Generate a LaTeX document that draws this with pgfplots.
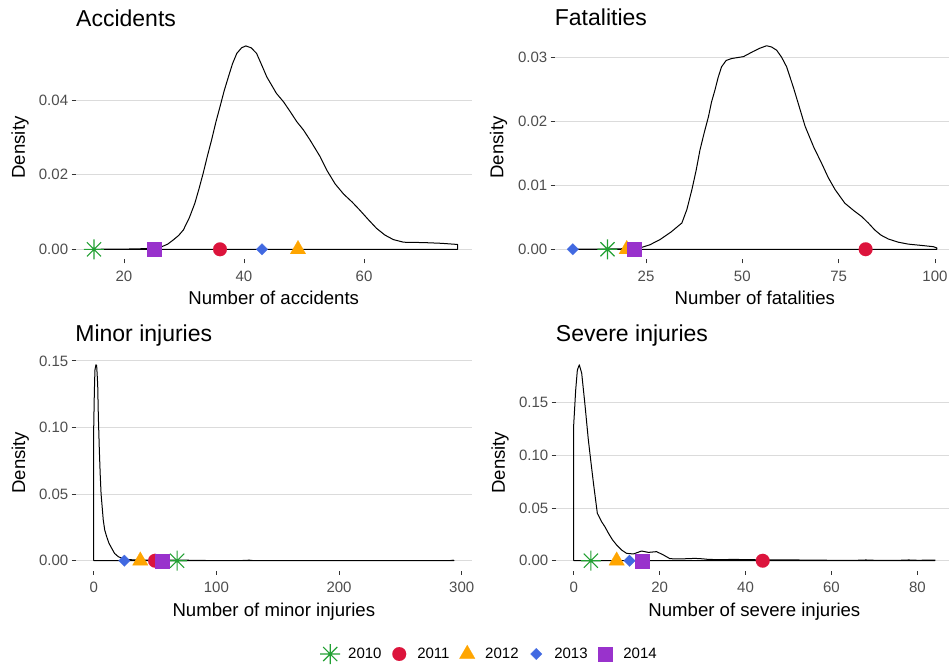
\documentclass[border=0pt]{standalone}
\usepackage{pgfplots}
\pgfplotsset{compat=1.18}
\usepackage{fontspec}
\setmainfont{Liberation Sans}
\definecolor{gridc}{HTML}{DBDBDB}
\definecolor{tickc}{HTML}{4D4D4D}
\definecolor{tickm}{HTML}{333333}
\definecolor{c2010}{HTML}{22A033}
\definecolor{c2011}{HTML}{DC143C}
\definecolor{c2012}{HTML}{FFA500}
\definecolor{c2013}{HTML}{4169E1}
\definecolor{c2014}{HTML}{9932CC}
\pgfdeclareplotmark{ggstar}{%
  \pgfpathmoveto{\pgfqpoint{-\pgfplotmarksize}{0pt}}\pgfpathlineto{\pgfqpoint{\pgfplotmarksize}{0pt}}%
  \pgfpathmoveto{\pgfqpoint{0pt}{-\pgfplotmarksize}}\pgfpathlineto{\pgfqpoint{0pt}{\pgfplotmarksize}}%
  \pgfpathmoveto{\pgfqpoint{-0.7071\pgfplotmarksize}{-0.7071\pgfplotmarksize}}\pgfpathlineto{\pgfqpoint{0.7071\pgfplotmarksize}{0.7071\pgfplotmarksize}}%
  \pgfpathmoveto{\pgfqpoint{-0.7071\pgfplotmarksize}{0.7071\pgfplotmarksize}}\pgfpathlineto{\pgfqpoint{0.7071\pgfplotmarksize}{-0.7071\pgfplotmarksize}}%
  \pgfusepathqstroke}
\pgfplotsset{
  ggbase/.style={
    scale only axis, clip=false,
    axis line style={draw=none},
    xtick pos=left, ytick pos=left,
    tick align=outside, major tick length=4pt,
    tick style={color=tickm, line width=0.9pt},
    ymajorgrids, major grid style={color=gridc, line width=0.9pt},
    scaled y ticks=false, scaled x ticks=false,
    ticklabel style={font=\fontsize{15}{15}\selectfont, text=tickc},
    /pgf/number format/assume math mode=true,
    yticklabel style={/pgf/number format/fixed, /pgf/number format/fixed zerofill, /pgf/number format/precision=2, inner xsep=3.2pt},
    xticklabel style={inner ysep=6pt, yshift=-1pt},
    xlabel style={font=\fontsize{18.6}{18.6}\selectfont, at={(axis description cs:0.5,0)}, anchor=base, yshift=-45.5pt},
    ylabel style={font=\fontsize{18.6}{18.6}\selectfont, at={(axis description cs:-0.14,0.5)}, anchor=center},
    every axis title/.style={font=\fontsize{23}{23}\selectfont, at={(axis description cs:0,1)}, anchor=base west, inner xsep=0pt},
    ylabel={Density},
    legend image code/.code={\path[draw=none,fill=none] (-9pt,0pt) -- (18pt,0pt); \draw[##1, draw=none] plot coordinates {(0pt,0pt)};},
  },
  dens/.style={black, line width=1pt, line join=round},
  s2010/.style={only marks, mark=ggstar, mark size=10pt, color=c2010, mark options={solid, draw=c2010, line width=1.1pt}},
  s2011/.style={only marks, mark=*, mark size=6.9pt, color=c2011, mark options={solid, draw=c2011, fill=c2011, line width=0.1pt}},
  s2012/.style={only marks, mark=triangle*, mark size=9pt, color=c2012, mark options={solid, draw=c2012, fill=c2012, line width=0.1pt}},
  s2013/.style={only marks, mark=square*, mark size=4.1pt, color=c2013, mark options={solid, draw=c2013, fill=c2013, rotate=45, line width=0.1pt}},
  s2014/.style={only marks, mark=square*, mark size=7pt, color=c2014, mark options={solid, draw=c2014, fill=c2014, line width=0.1pt}},
}
\begin{document}
\begin{tikzpicture}
\useasboundingbox (0pt,0pt) rectangle (949pt,667pt);
% ---------------- Accidents ----------------
\begin{axis}[ggbase,
  at={(75.5pt,407.5pt)}, anchor=south west, width=396.5pt, height=224pt,
  xmin=11.92, xmax=78.0, ymin=-0.00273, ymax=0.0573,
  xtick={20,40,60}, ytick={0,0.02,0.04},
  xlabel={Number of accidents},
  title={Accidents}, title style={yshift=8.8pt, xshift=0.5pt}]
\addplot[dens] coordinates {(15,0) (22,0.0001) (25,0.0003) (26.3,0.0007) (27.3,0.0014) (28.2,0.0025) (29.1,0.0037) (29.9,0.0052) (30.9,0.0085) (31.8,0.0123) (32.5,0.0162) (33.2,0.0204) (33.9,0.0250) (34.6,0.0293) (35.3,0.0340) (36.0,0.0382) (36.7,0.0425) (37.4,0.0462) (38.1,0.0498) (38.8,0.0525) (39.6,0.0540) (40.3,0.0545) (41.2,0.0540) (42.1,0.0525) (43.0,0.0492) (43.8,0.0462) (45.4,0.0418) (46.6,0.0395) (47.7,0.0369) (48.8,0.0342) (49.9,0.0320) (51.0,0.0293) (52.7,0.0248) (53.8,0.0212) (55.2,0.0175) (56.6,0.0148) (58.0,0.0127) (59.3,0.0105) (60.7,0.0080) (62.1,0.0056) (63.5,0.0038) (64.9,0.0026) (66.6,0.0019) (70,0.0018) (73,0.0016) (75.6,0.0013) (75.6,0) (15,0)};
\addplot[s2010] coordinates {(15,0)};
\addplot[s2011] coordinates {(36,0)};
\addplot[s2012] coordinates {(49,0)};
\addplot[s2013] coordinates {(43,0)};
\addplot[s2014] coordinates {(25,0)};
\end{axis}
% ---------------- Fatalities ----------------
\begin{axis}[ggbase,
  at={(554.7pt,407.5pt)}, anchor=south west, width=400.3pt, height=224pt,
  xmin=1.3, xmax=105.2, ymin=-0.0016, ymax=0.0334,
  xtick={25,50,75,100}, ytick={0,0.01,0.02,0.03},
  xlabel={Number of fatalities},
  title={Fatalities}, title style={yshift=9.5pt}]
\addplot[dens] coordinates {(6,0) (15,0.00003) (20,0.0001) (23.4,0.0002) (26,0.0007) (28.6,0.0015) (31.5,0.0027) (34.3,0.0041) (35.6,0.0062) (36.9,0.0093) (38.0,0.0123) (39.0,0.0155) (40.1,0.0182) (41.2,0.0207) (42.0,0.0230) (42.9,0.0249) (43.7,0.0268) (44.6,0.0285) (45.8,0.0295) (47.2,0.0298) (50.3,0.0301) (52.8,0.0309) (54.5,0.0314) (56.3,0.0318) (57.6,0.0316) (58.9,0.0311) (60.2,0.0300) (61.5,0.0285) (63.3,0.0252) (65.0,0.0218) (66.3,0.0192) (68.5,0.0160) (70.6,0.0134) (72.3,0.0112) (74.1,0.0093) (76.6,0.0072) (79,0.0060) (81.0,0.0051) (82.7,0.0041) (84.4,0.0030) (86,0.0022) (87.9,0.0016) (90.5,0.0011) (93.1,0.0008) (96.5,0.0006) (99.6,0.0004) (100.5,0.0002) (100.5,0) (6,0)};
\addplot[s2010] coordinates {(15,0)};
\addplot[s2011] coordinates {(82,0)};
\addplot[s2012] coordinates {(20,0)};
\addplot[s2013] coordinates {(6,0)};
\addplot[s2014] coordinates {(22,0)};
\end{axis}
% ---------------- Minor injuries ----------------
\begin{axis}[ggbase,
  at={(75.7pt,96.5pt)}, anchor=south west, width=396.3pt, height=215.5pt,
  xmin=-14.67, xmax=308.4, ymin=-0.00735, ymax=0.1544,
  xtick={0,100,200,300}, ytick={0,0.05,0.10,0.15},
  xlabel={Number of minor injuries},
  title={Minor injuries}, title style={yshift=13.3pt, xshift=-0.5pt},
  legend columns=5,
  legend style={at={(axis description cs:1.0416,-0.3875)}, anchor=center, draw=none, fill=none,
    font=\fontsize{15}{15}\selectfont,
    /tikz/every even column/.append style={column sep=8.7pt},
    nodes={inner xsep=0pt, inner ysep=2pt}}]
\addplot[dens, forget plot] coordinates {(0,0) (0,0.099) (0.5,0.125) (1.0,0.143) (1.8,0.147) (2.4,0.1465) (3.0,0.137) (3.3,0.1305) (3.8,0.108) (4.6,0.083) (5.3,0.065) (6.0,0.0505) (7.8,0.0305) (9.0,0.023) (10.6,0.018) (12.5,0.013) (14.7,0.0093) (17,0.0055) (20.1,0.0030) (24,0.0015) (28.2,0.0008) (35,0.0006) (45,0.0005) (60,0.0004) (75,0.0004) (85,0.0002) (100,0.0001) (120,0.0001) (127,0.0004) (130,0.0001) (150,0.00005) (290,0.00005) (293,0.0004) (293.7,0.0001) (293.7,0) (0,0)};
\addplot[s2010] coordinates {(68,0)};
\addlegendentry{2010}
\addplot[s2011] coordinates {(50,0)};
\addlegendentry{2011}
\addplot[s2012] coordinates {(38,0)};
\addlegendentry{2012}
\addplot[s2013] coordinates {(25,0)};
\addlegendentry{2013}
\addplot[s2014] coordinates {(56,0)};
\addlegendentry{2014}
\end{axis}
% ---------------- Severe injuries ----------------
\begin{axis}[ggbase,
  at={(555.7pt,96.5pt)}, anchor=south west, width=397.3pt, height=215.5pt,
  xmin=-4.19, xmax=88.3, ymin=-0.0093, ymax=0.1953,
  xtick={0,20,40,60,80}, ytick={0,0.05,0.10,0.15},
  xlabel={Number of severe injuries},
  title={Severe injuries}, title style={yshift=14pt}]
\addplot[dens] coordinates {(0,0) (0,0.129) (0.46,0.162) (0.85,0.181) (1.3,0.186) (1.86,0.178) (2.6,0.149) (3.4,0.115) (4.0,0.094) (4.6,0.0735) (5.5,0.045) (6.5,0.037) (7.3,0.032) (8.1,0.026) (9.0,0.020) (10.0,0.0149) (11.2,0.010) (12.3,0.0070) (13.9,0.0064) (15.8,0.0092) (17.4,0.0079) (19.3,0.0086) (20.9,0.0054) (22.4,0.0019) (25,0.0017) (28.2,0.0022) (30,0.0018) (31.4,0.0012) (35,0.0010) (37,0.0013) (40,0.0010) (45,0.0008) (50,0.0008) (54,0.0006) (60,0.0004) (66,0.0004) (68,0.0007) (70,0.0004) (76,0.0004) (78,0.0007) (80,0.0004) (83,0.0005) (84.1,0.0006) (84.1,0) (0,0)};
\addplot[s2010] coordinates {(4,0)};
\addplot[s2011] coordinates {(44,0)};
\addplot[s2012] coordinates {(10,0)};
\addplot[s2013] coordinates {(13,0)};
\addplot[s2014] coordinates {(16,0)};
\end{axis}
\end{tikzpicture}
\end{document}
